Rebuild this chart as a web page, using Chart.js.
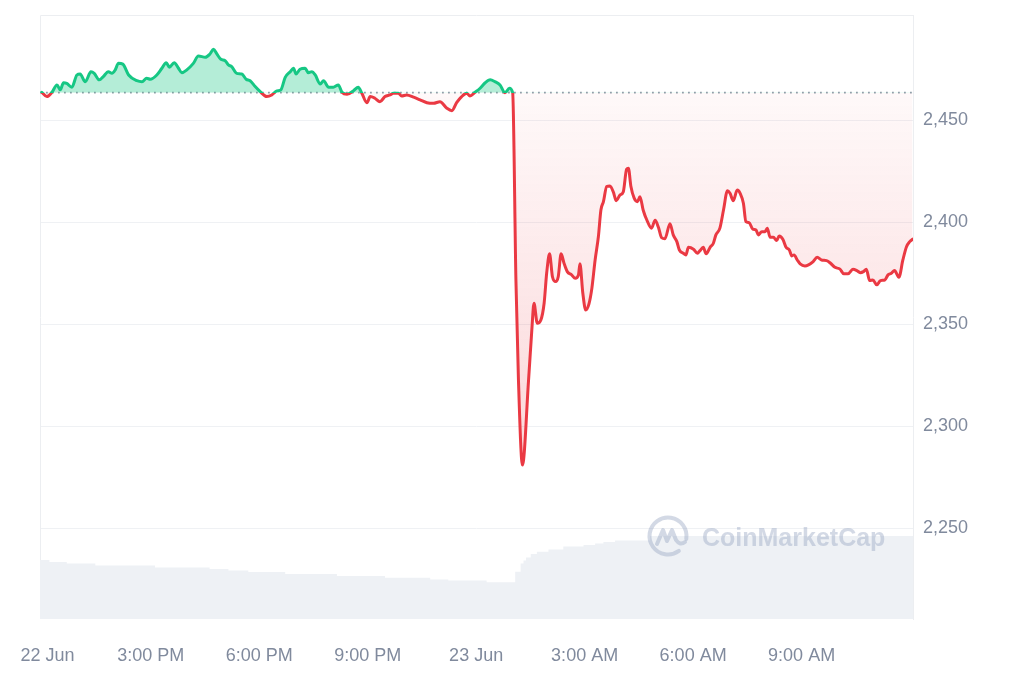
<html>
<head>
	<meta charset="utf-8">
	<title>ETH 24h price</title>
	<script src="https://cdn.jsdelivr.net/npm/chart.js@4.4.1/dist/chart.umd.min.js"></script>
	<style>
		html, body { margin: 0; padding: 0; background: #fff; }
	</style>
</head>
<body>
	<canvas id="myChart" width="1024" height="683"></canvas>

	<script>

		// time in hours counted from 22 Jun 00:00
		var times = [
			11.99,12.13,12.27,12.41,12.50,12.59,12.68,12.82,12.96,13.05,
			13.19,13.35,13.44,13.58,13.69,13.83,13.93,14.02,14.11,14.23,
			14.39,14.62,14.76,14.89,14.99,15.17,15.31,15.43,15.52,15.65,
			15.77,15.86,16.00,16.18,16.32,16.51,16.64,16.74,16.83,16.94,
			17.06,17.15,17.24,17.38,17.52,17.64,17.75,17.89,18.03,18.21,
			18.35,18.49,18.60,18.72,18.86,18.95,19.02,19.13,19.27,19.36,
			19.46,19.55,19.69,19.78,19.92,20.05,20.19,20.29,20.43,20.61,
			20.74,20.84,20.98,21.07,21.20,21.34,21.48,21.62,21.71,21.85,
			21.94,22.08,22.27,22.45,22.64,22.82,23.00,23.19,23.33,23.46,
			23.60,23.74,23.83,23.97,24.11,24.25,24.39,24.52,24.66,24.80,
			24.92,25.01,25.10,25.17,25.28,25.45,25.54,25.60,25.69,25.79,
			25.88,25.95,26.03,26.11,26.20,26.27,26.35,26.43,26.52,26.64,
			26.74,26.83,26.87,26.95,27.03,27.12,27.20,27.29,27.38,27.45,
			27.52,27.61,27.70,27.80,27.87,27.98,28.07,28.16,28.21,28.28,
			28.37,28.46,28.53,28.62,28.72,28.85,28.95,29.04,29.13,29.22,
			29.36,29.45,29.55,29.62,29.73,29.80,29.87,30.01,30.12,30.19,
			30.28,30.36,30.47,30.56,30.63,30.74,30.84,30.95,31.02,31.11,
			31.22,31.30,31.39,31.46,31.55,31.65,31.74,31.80,31.90,31.99,
			32.05,32.13,32.22,32.31,32.38,32.48,32.57,32.66,32.73,32.79,
			32.88,32.96,33.09,33.19,33.32,33.43,33.55,33.69,33.80,33.92,
			34.06,34.17,34.28,34.42,34.53,34.62,34.71,34.79,34.88,34.97,
			35.08,35.18,35.30,35.39,35.48,35.57,35.69,35.80,35.90,35.99,36.07
		];

		var prices = [
			2463.7,2461.6,2463.7,2467.3,2464.9,2468.4,2468.1,2466.2,2472.2,2472.7,
			2468.9,2473.8,2473.0,2469.8,2471.4,2473.8,2473.0,2474.7,2477.9,2477.5,
			2472.2,2469.4,2468.9,2470.6,2470.1,2472.2,2475.5,2478.2,2476.0,2478.2,
			2475.5,2473.3,2474.7,2477.9,2481.5,2480.9,2482.5,2484.8,2482.5,2479.9,
			2479.2,2477.1,2476.3,2473.0,2472.7,2470.1,2469.4,2466.5,2464.0,2461.6,
			2462.4,2464.4,2464.9,2471.0,2473.8,2475.5,2472.7,2475.0,2475.5,2473.3,
			2473.8,2472.2,2467.8,2469.4,2466.2,2466.2,2467.3,2463.7,2462.7,2464.5,
			2466.2,2463.2,2458.6,2461.6,2460.8,2459.1,2461.6,2462.4,2463.2,2463.2,
			2461.9,2462.4,2461.3,2460.0,2458.6,2458.3,2459.1,2455.9,2454.7,2458.6,
			2461.6,2463.2,2461.9,2463.7,2465.7,2468.4,2469.8,2468.9,2467.3,2463.5,
			2465.7,2463.5,2371.7,2322.7,2281.0,2322.7,2347.2,2360.3,2350.5,2352.1,
			2360.3,2375.0,2384.5,2373.3,2370.9,2373.3,2384.5,2379.9,2375.8,2374.2,
			2372.5,2374.2,2379.6,2365.2,2357.0,2360.0,2367.6,2381.5,2392.9,2406.0,
			2410.1,2417.5,2417.8,2414.5,2410.6,2413.4,2415.0,2426.0,2426.5,2417.5,
			2411.8,2410.1,2412.5,2405.9,2401.1,2397.1,2401.0,2397.5,2392.4,2391.9,
			2399.3,2393.8,2390.5,2386.4,2384.8,2384.0,2387.7,2386.8,2384.8,2386.1,
			2387.7,2384.5,2387.7,2389.7,2393.8,2397.1,2406.0,2415.5,2414.2,2410.6,
			2415.8,2414.2,2409.3,2400.3,2399.8,2396.6,2396.2,2393.8,2395.4,2395.4,
			2397.1,2392.6,2392.6,2391.0,2393.3,2391.7,2387.7,2386.4,2383.5,2384.0,
			2381.5,2379.6,2378.6,2379.1,2380.7,2382.8,2381.5,2381.2,2379.9,2377.9,
			2377.0,2374.7,2374.7,2377.0,2376.3,2375.3,2375.8,2377.0,2371.4,2371.7,
			2369.3,2371.4,2371.7,2374.2,2375.0,2376.3,2373.0,2381.5,2388.0,2390.5,2391.7
		];

		// price at the start of the window (dotted line)
		var openPrice = 2463.5;

		// 24h volume (relative units), value holds from its time to the next one
		var volTimes = [11.94,12.20,12.68,13.47,15.12,16.63,17.15,17.70,18.72,20.15,21.48,22.73,23.23,24.29,
			25.08,25.23,25.31,25.38,25.51,25.68,26.00,26.41,26.97,27.29,27.52,27.84,28.81,36.08];
		var volumes = [14.75,14.25,13.9,13.4,12.9,12.5,12.1,11.75,11.25,10.75,10.3,9.9,9.6,9.2,
			11.8,13.9,14.6,15.4,16.25,16.8,17.4,18.1,18.5,18.9,19.25,19.6,20.75,20.75];

		var xMin = 11.94, xMax = 36.08;
		var tickHours = [12.15, 15, 18, 21, 24, 27, 30, 33];
		var tickLabels = ["22 Jun", "3:00 PM", "6:00 PM", "9:00 PM", "23 Jun", "3:00 AM", "6:00 AM", "9:00 AM"];
		var priceTicks = [2250, 2300, 2350, 2400, 2450];

		var green = '#16c784';
		var red = '#ea3943';
		var labelFont = { family: '"Liberation Sans", Arial, sans-serif', size: 18 };
		var labelColor = '#808a9d';


		// green above the opening price, red below it
		function splitColor(ctx) {
			var chart = ctx.chart;
			var area = chart.chartArea;
			if (!area) return red;
			var yb = chart.scales.y.getPixelForValue(openPrice);
			var stop = (yb - area.top) / (area.bottom - area.top);
			stop = Math.min(Math.max(stop, 0), 1);
			var g = chart.ctx.createLinearGradient(0, area.top, 0, area.bottom);
			g.addColorStop(0, green);
			g.addColorStop(stop, green);
			g.addColorStop(stop, red);
			g.addColorStop(1, red);
			return g;
		}

		function redFill(ctx) {
			var chart = ctx.chart;
			if (!chart.chartArea) return 'rgba(234,57,67,0.08)';
			var y = chart.scales.y;
			var g = chart.ctx.createLinearGradient(0, y.getPixelForValue(openPrice), 0, y.getPixelForValue(Math.min.apply(null, prices)));
			g.addColorStop(0, 'rgba(234,57,67,0.03)');
			g.addColorStop(1, 'rgba(234,57,67,0.2)');
			return g;
		}

		var pricePoints = times.map(function (t, i) { return { x: t, y: prices[i] }; });
		var volPoints = volTimes.map(function (t, i) { return { x: t, y: volumes[i] }; });

		var framePlugin = {
			id: 'frame',
			beforeDatasetsDraw: function (chart) {
				var c = chart.ctx, a = chart.chartArea;
				c.save();
				c.strokeStyle = '#eceef1';
				c.lineWidth = 1;
				c.beginPath();
				c.moveTo(a.left + 0.5, a.bottom);
				c.lineTo(a.left + 0.5, a.top + 0.5);
				c.lineTo(a.right, a.top + 0.5);
				c.stroke();
				c.restore();
			},
			afterDatasetsDraw: function (chart) {
				// CoinMarketCap watermark
				var c = chart.ctx;
				var cx = 668, cy = 536, r = 18.5;
				c.save();
				c.strokeStyle = 'rgba(150,164,192,0.42)';
				c.fillStyle = 'rgba(150,164,192,0.42)';
				c.lineWidth = 4;
				c.lineCap = 'round';
				c.lineJoin = 'round';
				c.beginPath();
				c.arc(cx, cy, r, 0.3 * Math.PI, 2.05 * Math.PI);
				c.stroke();
				c.beginPath();
				c.moveTo(cx - 11, cy + 8);
				c.lineTo(cx - 5, cy - 6);
				c.lineTo(cx - 1, cy + 5);
				c.lineTo(cx + 4, cy - 6);
				c.lineTo(cx + 8, cy + 4);
				c.quadraticCurveTo(cx + 12, cy + 10, cx + 17, cy + 6);
				c.stroke();
				c.font = 'bold 25px "Liberation Sans", Arial, sans-serif';
				c.textBaseline = 'alphabetic';
				c.fillText('CoinMarketCap', 702, 546);
				c.restore();
			}
		};

		var ctx = document.getElementById('myChart').getContext('2d');
		var chart = new Chart(ctx, {
			type: 'line',
			data: {
				datasets: [{
					label: 'Price',
					data: pricePoints,
					yAxisID: 'y',
					borderColor: splitColor,
					backgroundColor: redFill,
					borderWidth: 3,
					borderJoinStyle: 'round',
					borderCapStyle: 'round',
					pointRadius: 0,
					cubicInterpolationMode: 'monotone',
					fill: { target: { value: openPrice }, above: 'rgba(22,199,132,0.32)' }
				},
				{
					label: 'Open',
					data: [{ x: xMin, y: openPrice }, { x: xMax, y: openPrice }],
					yAxisID: 'y',
					borderColor: '#979daa',
					borderWidth: 1.8,
					borderDash: [1.8, 4.2],
					pointRadius: 0,
					fill: false
				},
				{
					label: 'Volume',
					data: volPoints,
					yAxisID: 'yv',
					stepped: true,
					borderWidth: 0,
					borderColor: 'rgba(0,0,0,0)',
					backgroundColor: '#eef1f5',
					pointRadius: 0,
					fill: 'origin'
				}]
			},
			options: {
				responsive: false,
				animation: false,
				devicePixelRatio: 1,
				events: [],
				layout: { padding: { left: 40, top: 15, right: 0, bottom: 0 } },
				plugins: {
					legend: { display: false },
					tooltip: { enabled: false }
				},
				scales: {
					x: {
						type: 'linear',
						min: xMin,
						max: xMax,
						afterBuildTicks: function (scale) {
							scale.ticks = tickHours.map(function (v) { return { value: v }; });
						},
						afterFit: function (scale) {
							scale.height = 64;
							scale.paddingLeft = 0;
							scale.paddingRight = 0;
						},
						ticks: {
							autoSkip: false,
							maxRotation: 0,
							padding: 18,
							font: labelFont,
							color: labelColor,
							callback: function (v, i) { return tickLabels[i]; }
						},
						grid: { display: false },
						border: { display: false }
					},
					y: {
						position: 'right',
						min: 2205.5,
						max: 2501.6,
						afterBuildTicks: function (scale) {
							scale.ticks = priceTicks.map(function (v) { return { value: v }; });
						},
						afterFit: function (scale) {
							scale.width = 111;
							scale.paddingTop = 0;
							scale.paddingBottom = 0;
						},
						ticks: {
							padding: 10,
							font: labelFont,
							color: labelColor,
							callback: function (v) { return v.toLocaleString('en-US'); }
						},
						grid: { color: '#eff1f4', drawTicks: false },
						border: { color: '#eceef1' }
					},
					yv: {
						display: false,
						min: 0,
						max: 151
					}
				}
			},
			plugins: [framePlugin]
		});

	</script>
</body>
</html>
